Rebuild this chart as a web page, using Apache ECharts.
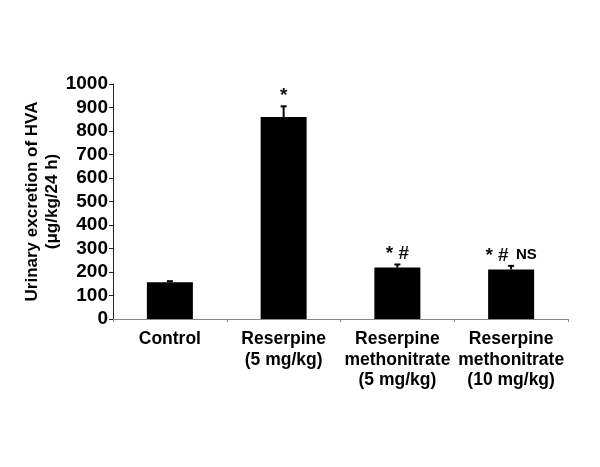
<!DOCTYPE html>
<html>
<head>
<meta charset="utf-8">
<script src="https://cdn.jsdelivr.net/npm/echarts@6/dist/echarts.min.js"></script>
<style>
html,body{margin:0;padding:0;background:#fff;}
#chart{width:600px;height:467px;}
</style>
</head>
<body>
<div id="chart"></div>
<script>
const categories = ['Control', 'Reserpine\n(5 mg/kg)', 'Reserpine\nmethonitrate\n(5 mg/kg)', 'Reserpine\nmethonitrate\n(10 mg/kg)'];
const values = [156, 860, 219, 211];
const errors = [5, 45, 13, 15];
const annotations = ['', '*', '* #', '* # {ns|NS}'];
const yTicks = [0, 100, 200, 300, 400, 500, 600, 700, 800, 900, 1000];

const FONT = 'Liberation Sans, Arial, sans-serif';
const chart = echarts.init(document.getElementById('chart'));

const errData = values.map((v, i) => [i, v, errors[i]]);

chart.setOption({
  animation: false,
  backgroundColor: '#fff',
  grid: { left: 113, right: 32, top: 84, bottom: 148, containLabel: false },
  xAxis: {
    type: 'category',
    data: categories,
    axisLine: { lineStyle: { color: '#888', width: 1 } },
    axisTick: { show: true, length: 3, lineStyle: { color: '#888' } },
    axisLabel: {
      margin: 10,
      color: '#000',
      fontFamily: FONT,
      fontWeight: 'bold',
      fontSize: 17.5,
      lineHeight: 20.5,
      interval: 0
    }
  },
  yAxis: {
    type: 'value',
    min: yTicks[0],
    max: yTicks[yTicks.length - 1],
    interval: 100,
    name: 'Urinary excretion of HVA\n(μg/kg/24 h)',
    nameLocation: 'middle',
    nameGap: 51,
    nameMoveOverlap: false,
    nameTextStyle: {
      color: '#000',
      fontFamily: FONT,
      fontWeight: 'bold',
      fontSize: 17,
      lineHeight: 20
    },
    splitLine: { show: false },
    axisLine: { show: true, lineStyle: { color: '#222', width: 1 } },
    axisTick: { show: true, length: 4, lineStyle: { color: '#222' } },
    axisLabel: {
      margin: 5,
      color: '#000',
      fontFamily: FONT,
      fontWeight: 'bold',
      fontSize: 19,
      formatter: function (v) { return String(v); }
    }
  },
  series: [
    {
      type: 'bar',
      data: values,
      barWidth: 46,
      itemStyle: { color: '#000' },
      z: 2
    },
    {
      type: 'custom',
      data: errData,
      z: 3,
      renderItem: function (params, api) {
        const i = api.value(0);
        const v = api.value(1);
        const e = api.value(2);
        const txt = annotations[params.dataIndex];
        const base = api.coord([i, v]);
        const top = api.coord([i, v + e]);
        const children = [
          { type: 'line', shape: { x1: base[0], y1: base[1], x2: top[0], y2: top[1] }, style: { stroke: '#000', lineWidth: 2 } },
          { type: 'line', shape: { x1: top[0] - 3, y1: top[1], x2: top[0] + 3, y2: top[1] }, style: { stroke: '#000', lineWidth: 2 } }
        ];
        if (txt) {
          children.push({
            type: 'text',
            x: top[0],
            y: top[1] - 1,
            style: {
              text: txt,
              x: 0, y: 0,
              align: 'center',
              verticalAlign: 'bottom',
              fill: '#111',
              font: 'bold 19px ' + FONT,
              rich: {
                ns: { font: 'bold 15px ' + FONT, fill: '#000', padding: [0, 0, 1, 2] }
              }
            }
          });
        }
        return { type: 'group', children: children };
      }
    }
  ]
});
</script>
</body>
</html>
